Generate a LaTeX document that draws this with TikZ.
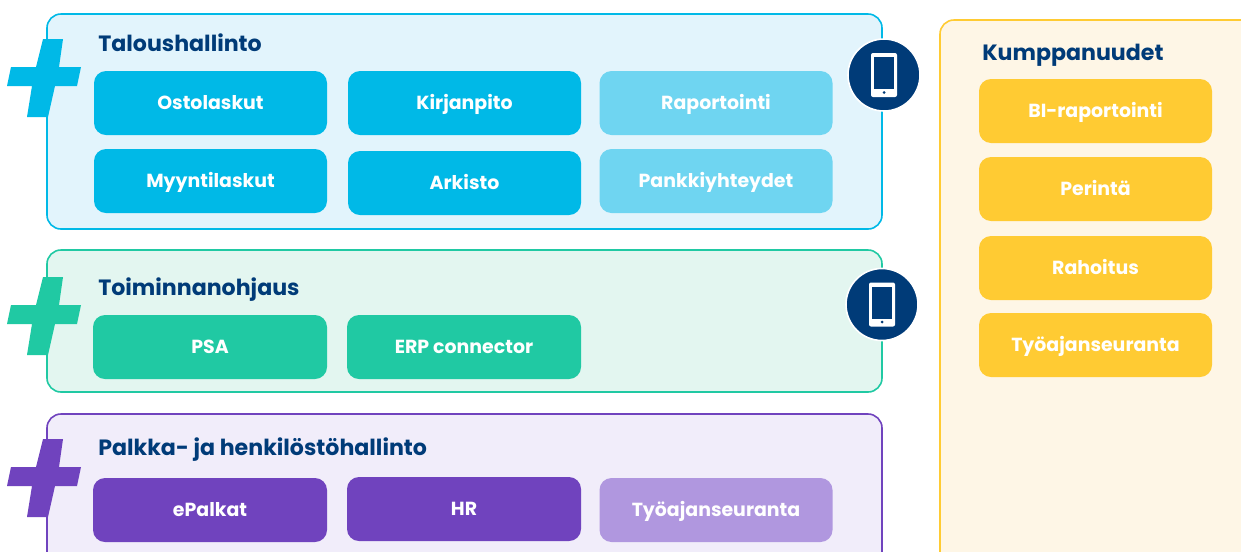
\documentclass[tikz,border=0pt]{standalone}
\usepackage{fontspec}
\setmainfont{Poppins}
\definecolor{navy}{HTML}{003B78}
\definecolor{blueM}{HTML}{00B9E7}
\definecolor{blueL}{HTML}{6FD5F1}
\definecolor{blueP}{HTML}{E2F4FC}
\definecolor{greenM}{HTML}{20C9A3}
\definecolor{greenP}{HTML}{E3F6F0}
\definecolor{purpleM}{HTML}{7043BE}
\definecolor{purpleL}{HTML}{B097DF}
\definecolor{purpleP}{HTML}{F1EDFA}
\definecolor{yellowM}{HTML}{FFCB33}
\definecolor{yellowP}{HTML}{FEF6E6}
\begin{document}
\begin{tikzpicture}
    [
    x=0.75pt,y=-0.75pt,
    panel/.style={
      rectangle,
      rounded corners=10.5pt,
      line width=1.2pt,
      anchor=north west,
      inner sep=0pt,
      outer sep=0pt
    },
    tile/.style={
      rectangle,
      rounded corners=9pt,
      minimum width=174.75pt,
      minimum height=48pt,
      inner sep=0pt,
      text=white,
      text height=9.6pt,
      text depth=0pt,
      font=\fontsize{14.2}{16}\selectfont\bfseries
    },
    heading/.style={
      anchor=base west,
      inner sep=0pt,
      text=navy,
      font=\fontsize{16.6}{20}\selectfont\bfseries
    },
    badge/.style={
      circle,
      fill=navy,
      draw=white,
      line width=1.2pt,
      minimum size=54pt,
      inner sep=0pt
    },
    plus/.pic={
      \fill (43,39) -- (63,39) -- (59,67) -- (81,67) -- (77,86) -- (55,86)
        -- (48,117) -- (27,117) -- (32,86) -- (7,86) -- (11,67) -- (36,67) -- cycle;
    },
    phone/.pic={
      \fill[white,rounded corners=1.5pt] (-13,-22) rectangle (13,22);
      \fill[navy] (-10,-18) rectangle (10,14);
      \fill[navy] (0,17.5) circle (1.5);
    }]
    \clip (0,0) rectangle (1241,551);
    \fill[white] (0,0) rectangle (1241,551);

    % panels
    \node (talous) at (47,14) [panel,draw=blueM,fill=blueP,minimum width=626.25pt,minimum height=161.25pt] {};
    \node (toiminta) at (47,250) [panel,draw=greenM,fill=greenP,minimum width=626.25pt,minimum height=106.5pt] {};
    \node (palkka) at (47,414) [panel,draw=purpleM,fill=purpleP,minimum width=626.25pt,minimum height=130pt] {};
    \node (kumppanit) at (940,20) [panel,draw=yellowM,fill=yellowP,minimum width=250pt,minimum height=420pt] {};

    % plus signs
    \pic[blueM] at (0,0) {plus};
    \pic[greenM] at (0,238) {plus};
    \pic[purpleM] at (0,400) {plus};

    % headings
    \node (talousT) at (98,51.7) [heading] {Taloushallinto};
    \node (toimintaT) at (98,295) [heading] {Toiminnanohjaus};
    \node (palkkaT) at (98,455) [heading] {Palkka- ja henkilöstöhallinto};
    \node (kumppanitT) at (982,60) [heading] {Kumppanuudet};

    % blue tiles
    \node (osto) at (210.5,103) [tile,fill=blueM] {Ostolaskut};
    \node (kirja) at (464.5,103) [tile,fill=blueM] {Kirjanpito};
    \node (rapo) at (716,103) [tile,fill=blueL] {Raportointi};
    \node (myynti) at (210.5,181) [tile,fill=blueM] {Myyntilaskut};
    \node (arkisto) at (464.5,183) [tile,fill=blueM] {Arkisto};
    \node (pankki) at (716,181) [tile,fill=blueL] {Pankkiyhteydet};

    % green tiles
    \node (psa) at (210,347) [tile,fill=greenM,minimum width=175.5pt] {PSA};
    \node (erp) at (464,347) [tile,fill=greenM,minimum width=175.5pt] {ERP connector};

    % purple tiles
    \node (epalkat) at (210,510) [tile,fill=purpleM,minimum width=175.5pt] {ePalkat};
    \node (hr) at (464,509) [tile,fill=purpleM,minimum width=175.5pt] {HR};
    \node (tyoaika) at (716,510) [tile,fill=purpleL] {Työajanseuranta};

    % yellow tiles
    \node (bi) at (1095.5,111) [tile,fill=yellowM] {BI-raportointi};
    \node (perinta) at (1095.5,189) [tile,fill=yellowM] {Perintä};
    \node (rahoitus) at (1095.5,268) [tile,fill=yellowM] {Rahoitus};
    \node (tyoaikaB) at (1095.5,345) [tile,fill=yellowM] {Työajanseuranta};

    % phones
    \node (badgeA) at (884,75) [badge] {};
    \pic at (badgeA) {phone};
    \node (badgeB) at (882,304.5) [badge] {};
    \pic at (badgeB) {phone};
  \end{tikzpicture}
\end{document}
